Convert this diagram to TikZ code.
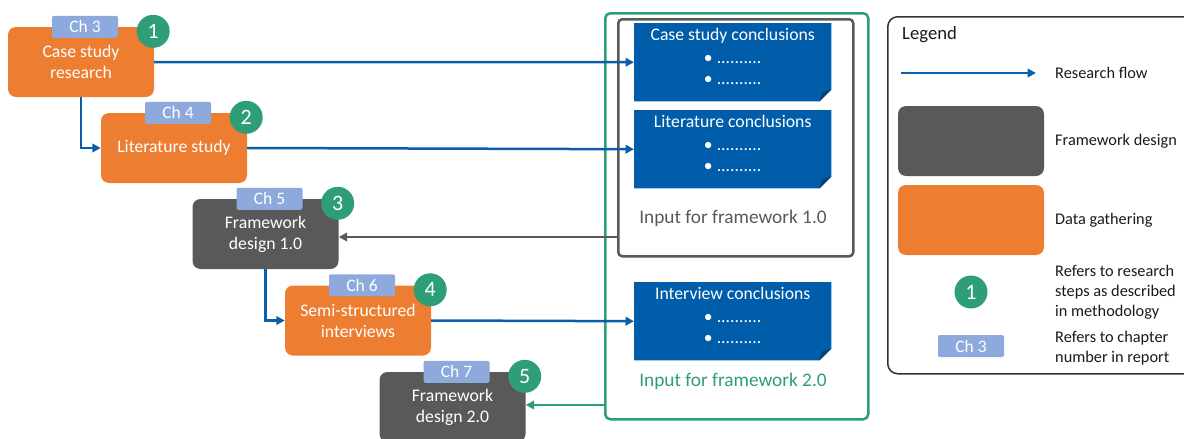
\documentclass[tikz,border=0pt]{standalone}
\usepackage{fontspec}
\setmainfont{Carlito}
\usetikzlibrary{arrows.meta,calc}

\definecolor{orangebox}{HTML}{ED7D31}
\definecolor{darkbox}{HTML}{595959}
\definecolor{flowblue}{HTML}{0B5FAA}
\definecolor{noteblue}{HTML}{005DAA}
\definecolor{folddark}{HTML}{0A3F72}
\definecolor{stepgreen}{HTML}{2E9E77}
\definecolor{chapblue}{HTML}{8EA9DB}
\definecolor{legendline}{HTML}{333333}
\definecolor{legendtext}{HTML}{1A1A1A}

% Draws a conclusions sheet with a folded bottom-right corner
\newcommand\conclusionnote[3]{%
  \node[notearea, anchor=north west] (#1) at #2 {};
  \fill[noteblue] (#1.north west) -- (#1.north east) -- ([yshift=12pt]#1.south east)
    -- ([xshift=-12pt]#1.south east) -- (#1.south west) -- cycle;
  \fill[folddark] ([yshift=12pt]#1.south east) -- ([xshift=-12pt]#1.south east)
    -- ([xshift=-9pt,yshift=9pt]#1.south east) -- cycle;
  \node[notetext, anchor=north] (#1-text) at ([yshift=-5.5pt]#1.north)
    {#3\\[2pt] •\hspace{4pt}..........\\ •\hspace{4pt}..........};
}

\begin{document}
\begin{tikzpicture}[x=1pt,y=-1pt,
  box/.style={rounded corners=8pt, minimum width=146pt, minimum height=70pt,
    inner sep=0pt, align=center, text=white, font=\fontsize{17.7}{21}\selectfont},
  gather/.style={box, fill=orangebox},
  design/.style={box, fill=darkbox},
  chap/.style={fill=chapblue, rounded corners=2pt, minimum width=66pt,
    minimum height=22pt, inner sep=0pt, text=white, font=\fontsize{17.5}{20}\selectfont},
  stepnum/.style={circle, fill=stepgreen, minimum size=33pt, inner sep=0pt,
    text=white, font=\fontsize{22}{24}\selectfont},
  flow/.style={-{Triangle[length=8.5pt,width=8.5pt]}, line width=2.5pt, draw=flowblue},
  feedback/.style={-{Triangle[length=8.5pt,width=8.5pt]}, line width=2.5pt, draw=#1},
  notearea/.style={minimum width=197pt, minimum height=78pt, inner sep=0pt},
  notetext/.style={inner sep=0pt, align=center, text=white,
    font=\fontsize{17.7}{21}\selectfont},
  frametitle/.style={font=\fontsize{19.3}{22}\selectfont, inner sep=0pt},
  legendlabel/.style={anchor=west, inner sep=0pt, align=left, text=legendtext,
    font=\fontsize{16.3}{20}\selectfont},
]
\useasboundingbox (0,0) rectangle (1184,439);

% ---- input frames and conclusions ----
\node[draw=stepgreen, line width=2.5pt, rounded corners=5pt, minimum width=263pt,
  minimum height=406pt, anchor=north west, inner sep=0pt] (inputtwo) at (604,12) {};
\node[draw=darkbox, line width=2.5pt, rounded corners=4pt, minimum width=235pt,
  minimum height=237pt, anchor=north west, inner sep=0pt] (inputone) at (617,18) {};

\conclusionnote{casenote}{(634,23)}{Case study conclusions}
\conclusionnote{litnote}{(634,110)}{Literature conclusions}
\conclusionnote{intnote}{(634,282)}{Interview conclusions}

\node[frametitle, text=darkbox] (inputonelabel) at (733,218) {Input for framework 1.0};
\node[frametitle, text=stepgreen] (inputtwolabel) at (733,381) {Input for framework 2.0};

% ---- research steps ----
\node[gather] (case) at (81,62) {Case study\\research};
\node[gather] (lit) at (174,148) {Literature study};
\node[design] (fd1) at (265.5,234) {Framework\\design 1.0};
\node[gather] (semi) at (358,320.5) {Semi-structured\\interviews};
\node[design] (fd2) at (452.5,407) {Framework\\design 2.0};

\foreach \b/\c/\n in {case/3/1, lit/4/2, fd1/5/3, semi/6/4, fd2/7/5}{
  \node[chap] (\b-chap) at ([xshift=4pt]\b.north) {Ch \c};
  \node[stepnum] (\b-step) at ([xshift=-1pt,yshift=-4.5pt]\b.north east) {\n};
}

% ---- research flow ----
\draw[flow] (case.east) -- (casenote.west);
\draw[flow] (case.south) |- (lit.west);
\draw[flow] (lit.east) -- (litnote.west);
\draw[flow] (fd1.south) |- (semi.west);
\draw[flow] (semi.east) -- (intnote.west);

\coordinate (fromone) at (617,237);
\draw[feedback=darkbox] (fromone) -- (fromone -| fd1.east);
\coordinate (fromtwo) at (604,405);
\draw[feedback=stepgreen] (fromtwo) -- (fromtwo -| fd2.east);

% ---- legend ----
\node[draw=legendline, line width=1.5pt, rounded corners=10pt, minimum width=310pt,
  minimum height=357pt, anchor=north west, inner sep=0pt] (legend) at (887,16) {};
\node[anchor=west, inner sep=0pt, text=legendtext, font=\fontsize{18.7}{22}\selectfont]
  (legendtitle) at (902,35) {Legend};

\coordinate (keyfrom) at (901,73);
\coordinate (keyto) at (1036,73);
\draw[flow] (keyfrom) -- (keyto);
\node[legendlabel] (keyflow) at (1055,73) {Research flow};

\node[design, minimum width=146pt, minimum height=70pt] (keydesign) at (971,141) {};
\node[legendlabel] (keydesignlabel) at (1055,141) {Framework design};

\node[gather, minimum width=146pt, minimum height=70pt] (keygather) at (971,220) {};
\node[legendlabel] (keygatherlabel) at (1055,220) {Data gathering};

\node[stepnum] (keystep) at (971,292) {1};
\node[legendlabel] (keysteplabel) at (1055,292)
  {Refers to research\\steps as described\\in methodology};

\node[chap] (keychap) at (971,346) {Ch 3};
\node[legendlabel] (keychaplabel) at (1055,348) {Refers to chapter\\number in report};
\end{tikzpicture}
\end{document}
